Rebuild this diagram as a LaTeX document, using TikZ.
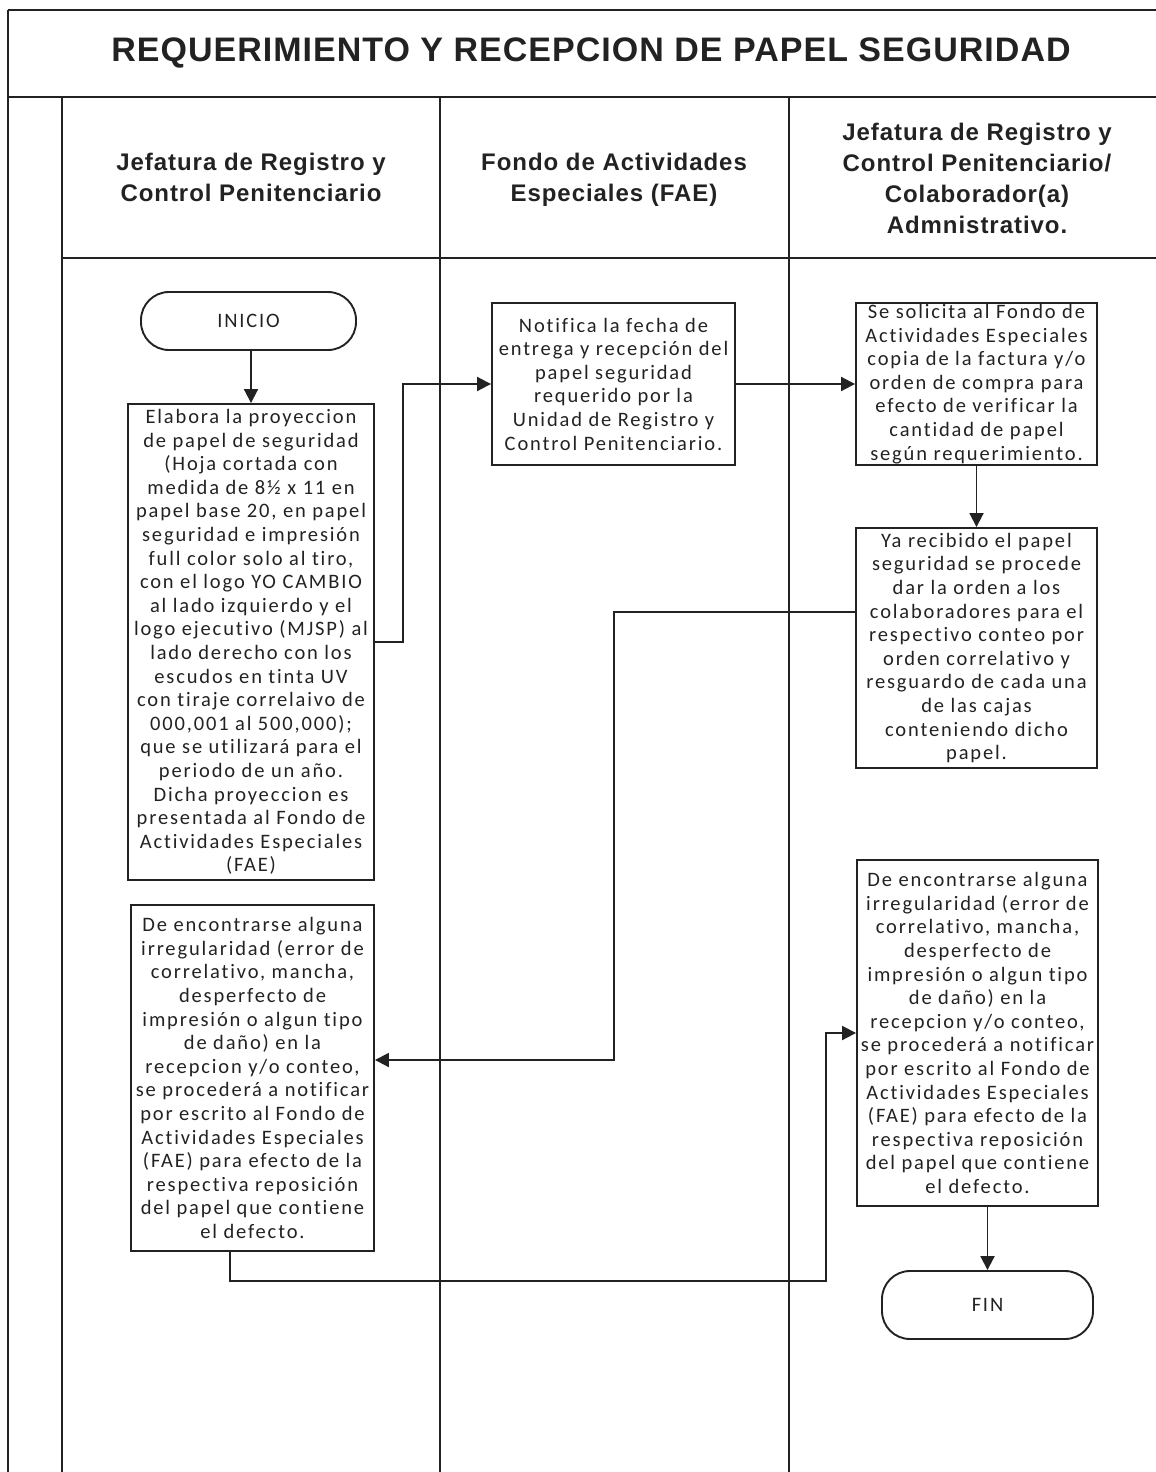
\documentclass[tikz,border=0pt]{standalone}
\usepackage{fontspec}
\setmainfont[LetterSpace=9,Ligatures=NoCommon]{Carlito}
\newfontfamily\hdrfont[LetterSpace=4]{Liberation Sans}
\newfontfamily\ttlfont[LetterSpace=3]{Liberation Sans}
\usetikzlibrary{arrows.meta}
\definecolor{ink}{HTML}{222222}
\begin{document}
\begin{tikzpicture}[x=1pt,y=-1pt,
  lanev/.style={draw=ink,line width=1.4pt},
  laneh/.style={draw=ink,line width=2.2pt},
  box/.style={draw=ink,line width=1.9pt,text=ink,align=center,inner sep=0pt,
    font=\fontsize{20.5}{23.6}\selectfont},
  term/.style={box,rounded corners=28pt},
  hdr/.style={align=center,text=ink,font=\hdrfont\bfseries\fontsize{24}{31}\selectfont},
  ttl/.style={text=ink,font=\ttlfont\bfseries\fontsize{34}{40}\selectfont},
  arr/.style={draw=ink,line width=1.9pt,-{Triangle[length=14pt,width=14pt]}}]
\useasboundingbox (0,0) rectangle (1156,1472);
% frame
\draw[laneh] (8,10) -- (1156,10);
\draw[laneh] (8,97) -- (1156,97);
\draw[laneh] (62,258) -- (1156,258);
\draw[lanev] (8,10) -- (8,1472);
\draw[lanev] (62,97) -- (62,1472);
\draw[lanev] (440,97) -- (440,1472);
\draw[lanev] (789,97) -- (789,1472);
% title and headers
\node[ttl] (title) at (591,53) {REQUERIMIENTO Y RECEPCION DE PAPEL SEGURIDAD};
\node[hdr] (h1) at (251,177) {Jefatura de Registro y\\Control Penitenciario};
\node[hdr] (h2) at (614,180) {Fondo de Actividades\\Especiales (FAE)};
\node[hdr] (h3) at (977,178) {Jefatura de Registro y\\Control Penitenciario/\\Colaborador(a)\\Admnistrativo.};
% nodes
\node[term,minimum width=215pt,minimum height=58pt] (ini) at (248.5,321) {INICIO};
\node[box,minimum width=246pt,minimum height=476pt] (b1) at (251,642) {Elabora la proyeccion\\de papel de seguridad\\(Hoja cortada con\\medida de 8½ x 11 en\\papel base 20, en papel\\seguridad e impresión\\full color solo al tiro,\\con el logo YO CAMBIO\\al lado izquierdo y el\\logo ejecutivo (MJSP) al\\lado derecho con los\\escudos en tinta UV\\con tiraje correlaivo de\\000,001 al 500,000);\\que se utilizará para el\\periodo de un año.\\Dicha proyeccion es\\presentada al Fondo de\\Actividades Especiales\\(FAE)};
\node[box,minimum width=243pt,minimum height=162pt] (b2) at (613.5,384) {Notifica la fecha de\\entrega y recepción del\\papel seguridad\\requerido por la\\Unidad de Registro y\\Control Penitenciario.};
\node[box,minimum width=241pt,minimum height=162pt] (b3) at (976.5,384) {Se solicita al Fondo de\\Actividades Especiales\\copia de la factura y/o\\orden de compra para\\efecto de verificar la\\cantidad de papel\\según requerimiento.};
\node[box,minimum width=241pt,minimum height=240pt] (b4) at (976.5,648) {Ya recibido el papel\\seguridad se procede\\dar la orden a los\\colaboradores para el\\respectivo conteo por\\orden correlativo y\\resguardo de cada una\\de las cajas\\conteniendo dicho\\papel.};
\node[box,minimum width=243pt,minimum height=346pt] (b5) at (252.5,1078) {De encontrarse alguna\\irregularidad (error de\\correlativo, mancha,\\desperfecto de\\impresión o algun tipo\\de daño) en la\\recepcion y/o conteo,\\se procederá a notificar\\por escrito al Fondo de\\Actividades Especiales\\(FAE) para efecto de la\\respectiva reposición\\del papel que contiene\\el defecto.};
\node[box,minimum width=241pt,minimum height=346pt] (b6) at (977.5,1033) {De encontrarse alguna\\irregularidad (error de\\correlativo, mancha,\\desperfecto de\\impresión o algun tipo\\de daño) en la\\recepcion y/o conteo,\\se procederá a notificar\\por escrito al Fondo de\\Actividades Especiales\\(FAE) para efecto de la\\respectiva reposición\\del papel que contiene\\el defecto.};
\node[term,minimum width=211pt,minimum height=68pt] (fin) at (987.5,1305) {FIN};
% bend points
\coordinate (c1) at (403,0);
\coordinate (c2) at (614,612);
\coordinate (c3) at (0,1060);
\coordinate (c5) at (230,1281);
\coordinate (c4) at (826,1281);
% connectors
\draw[arr] (b1.north |- ini.south) -- (b1.north);
\draw[arr] (b1.east) -- (b1.east -| c1) |- (b2.west);
\draw[arr] (b2.east) -- (b3.west);
\draw[arr] (b3.south) -- (b4.north);
\draw[arr] (b4.west |- c2) -- (c2) |- (b5.east |- c3);
\draw[arr] (b5.south -| c5) -- (c5) -- (c4) |- (b6.west);
\draw[arr] (fin.north |- b6.south) -- (fin.north);
\end{tikzpicture}
\end{document}
